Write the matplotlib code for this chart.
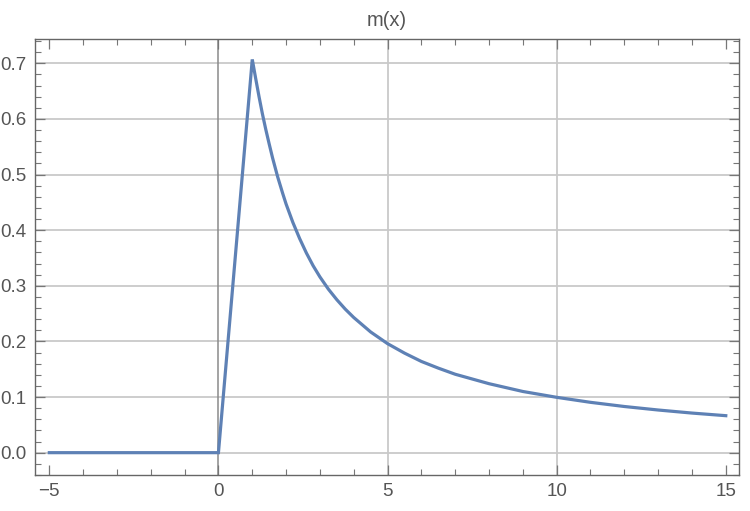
import numpy as np
import matplotlib.pyplot as plt
from matplotlib.ticker import MultipleLocator

# points
x_vals = [-5, 0, 1, 1.1, 1.2, 1.3, 1.4, 1.5, 1.6, 1.75, 1.9, 2, 2.2, 2.4, 2.6, 2.8,
          3, 3.25, 3.5, 3.75, 4, 4.5, 5, 5.5, 6, 6.5, 7, 8, 9, 10, 11, 12, 13, 14, 15]
m_vals = [0.0, 0.0, 0.707, 0.673, 0.640, 0.609, 0.581, 0.555, 0.530, 0.496, 0.466,
          0.447, 0.414, 0.385, 0.359, 0.336, 0.316, 0.294, 0.275, 0.258, 0.243,
          0.217, 0.196, 0.179, 0.164, 0.152, 0.141, 0.124, 0.110, 0.0995, 0.0905,
          0.083, 0.0767, 0.0712, 0.0665]
x_ticks = [-5, 0, 5, 10, 15]
y_ticks = [0.0, 0.1, 0.2, 0.3, 0.4, 0.5, 0.6, 0.7]

plt.rcParams['font.family'] = ['Liberation Sans', 'DejaVu Sans']

fig = plt.figure(figsize=(7.5, 5.11), dpi=100)
ax = fig.add_axes([0.0467, 0.0705, 0.9386, 0.8532])

grid_c = "#c9c9c9"
for yt in y_ticks:
    ax.axhline(yt, color=grid_c, lw=1.3, zorder=1)
for xt in [5, 10]:
    ax.axvline(xt, color=grid_c, lw=1.3, zorder=1)
ax.axvline(0, color="#8a8a8a", lw=1.1, zorder=1)

ax.plot(x_vals, m_vals, color="#5e81b5", lw=2.3, zorder=3, solid_joinstyle="miter")

ax.set_xlim(-5.423, 15.39)
ax.set_ylim(-0.0401, 0.7437)
ax.set_xticks(x_ticks)
ax.set_xticklabels(["\u22125", "0", "5", "10", "15"])
ax.set_yticks(y_ticks)
ax.set_yticklabels([f"{v:.1f}" for v in y_ticks])
ax.xaxis.set_minor_locator(MultipleLocator(1))
ax.yaxis.set_minor_locator(MultipleLocator(0.02))

for s in ax.spines.values():
    s.set_color("#666666")
    s.set_linewidth(1.0)
ax.tick_params(which="both", direction="in", top=True, right=True, color="#777777",
               labelcolor="#555555", labelsize=13.5)
ax.tick_params(which="major", length=7, width=0.9, pad=6)
ax.tick_params(which="minor", length=4, width=0.8)

ax.set_title("m(x)", color="#555555", fontsize=14.5, pad=9)

fig.savefig("out.png", dpi=100)
